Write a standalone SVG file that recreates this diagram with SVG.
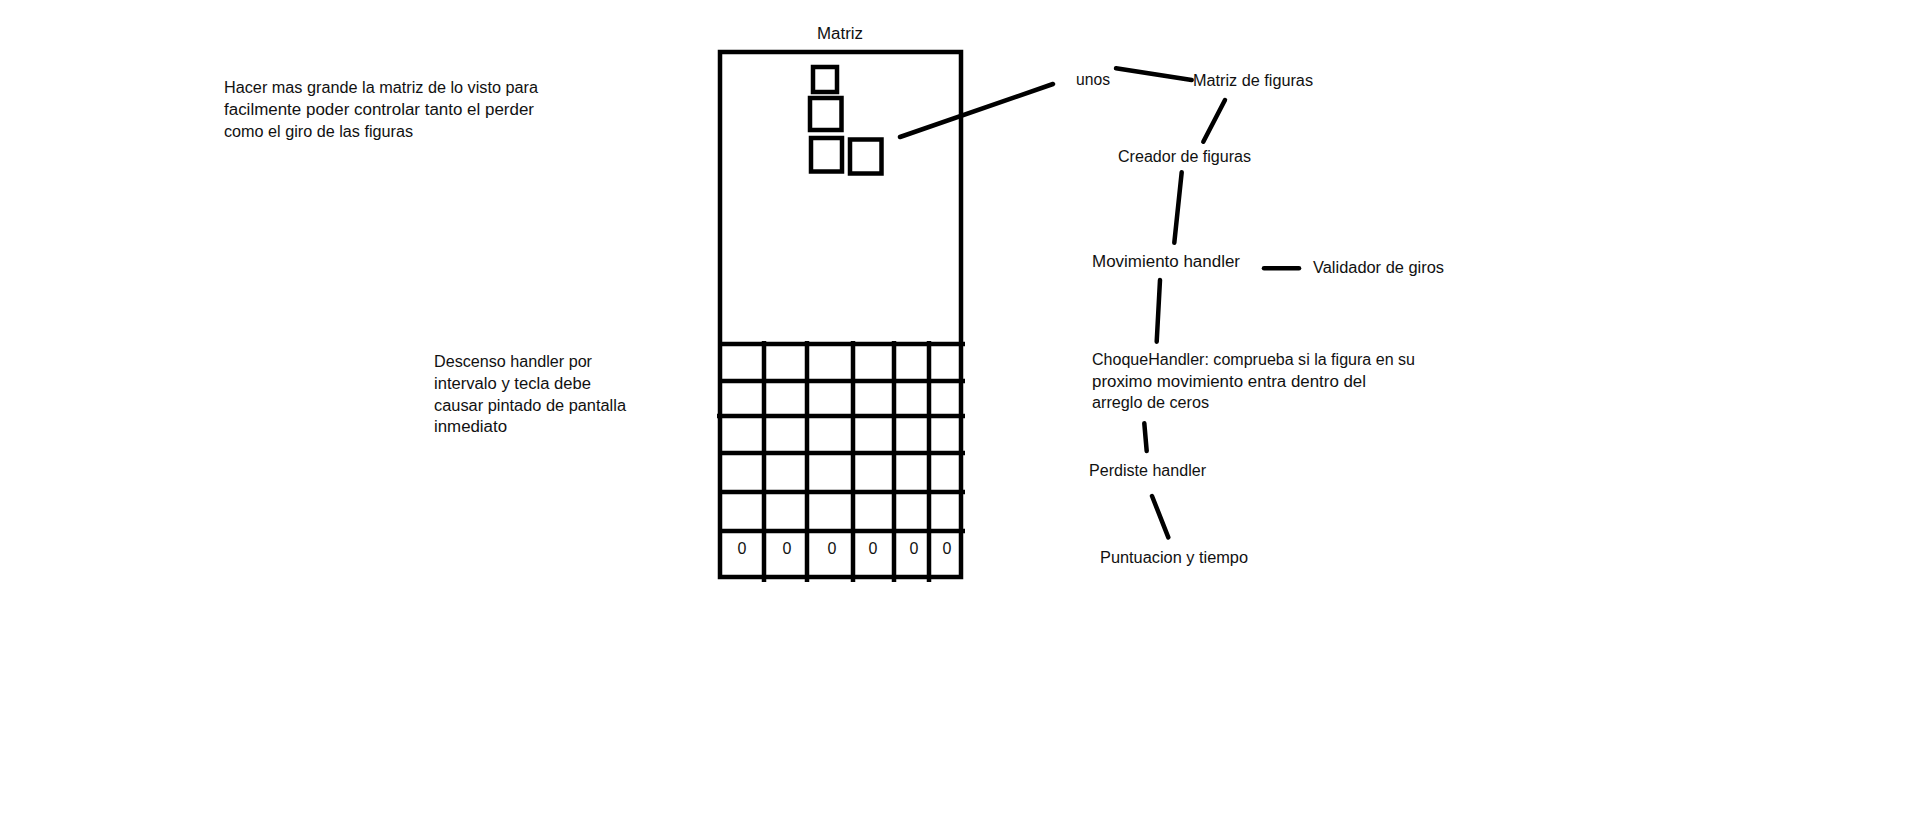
<svg xmlns="http://www.w3.org/2000/svg" width="1914" height="824" viewBox="0 0 1914 824">
<style>
text{font-family:"Liberation Sans",Arial,sans-serif;font-size:16px;fill:#111}
.s{stroke:#000;stroke-width:4.5;fill:none;stroke-linecap:square}
.g{stroke:#000;stroke-width:4.5;fill:none;stroke-linecap:butt}
.c{stroke:#000;stroke-width:4.5;fill:none;stroke-linecap:round}
.z{text-anchor:middle}
</style>
<rect width="1914" height="824" fill="#fff"/>
<g id="matriz">
<text x="817" y="39" textLength="46" lengthAdjust="spacingAndGlyphs">Matriz</text>
<path class="s" d="M720,52H961V577H720Z"/>
<path class="g" d="M720,344H965M720,381H965M717,416H965M720,453H965M720,492H965M720,531H965"/>
<path class="g" d="M764,341V582M807,341V582M853,341V582M894,341V582M929,341V582"/>
<g>
<text class="z" x="742" y="554">0</text>
<text class="z" x="787" y="554">0</text>
<text class="z" x="832" y="554">0</text>
<text class="z" x="873" y="554">0</text>
<text class="z" x="914" y="554">0</text>
<text class="z" x="947" y="554">0</text>
</g>
</g>
<g id="figura">
<rect class="s" x="813" y="67" width="24" height="25"/>
<rect class="s" x="810" y="98" width="31.5" height="32"/>
<rect class="s" x="811" y="138" width="31" height="33.5"/>
<rect class="s" x="850" y="139.5" width="31.5" height="34"/>
</g>
<g id="nota-matriz">
<text x="224" y="93.3" textLength="314" lengthAdjust="spacingAndGlyphs">Hacer mas grande la matriz de lo visto para</text>
<text x="224" y="115" textLength="310" lengthAdjust="spacingAndGlyphs">facilmente poder controlar tanto el perder</text>
<text x="224" y="136.7" textLength="189" lengthAdjust="spacingAndGlyphs">como el giro de las figuras</text>
</g>
<g id="nota-descenso">
<text x="434" y="366.7" textLength="158" lengthAdjust="spacingAndGlyphs">Descenso handler por</text>
<text x="434" y="389" textLength="157" lengthAdjust="spacingAndGlyphs">intervalo y tecla debe</text>
<text x="434" y="411" textLength="192" lengthAdjust="spacingAndGlyphs">causar pintado de pantalla</text>
<text x="434" y="432.3" textLength="73" lengthAdjust="spacingAndGlyphs">inmediato</text>
</g>
<g id="unos"><text x="1076" y="85" textLength="34" lengthAdjust="spacingAndGlyphs">unos</text></g>
<g id="matriz-figuras"><text x="1193" y="86" textLength="120" lengthAdjust="spacingAndGlyphs">Matriz de figuras</text></g>
<g id="creador"><text x="1118" y="161.7" textLength="133" lengthAdjust="spacingAndGlyphs">Creador de figuras</text></g>
<g id="movimiento"><text x="1092" y="267.3" textLength="148" lengthAdjust="spacingAndGlyphs">Movimiento handler</text></g>
<g id="validador"><text x="1313" y="272.7" textLength="131" lengthAdjust="spacingAndGlyphs">Validador de giros</text></g>
<g id="choque">
<text x="1092" y="365" textLength="323" lengthAdjust="spacingAndGlyphs">ChoqueHandler: comprueba si la figura en su</text>
<text x="1092" y="386.7" textLength="274" lengthAdjust="spacingAndGlyphs">proximo movimiento entra dentro del</text>
<text x="1092" y="408.3" textLength="117" lengthAdjust="spacingAndGlyphs">arreglo de ceros</text>
</g>
<g id="perdiste"><text x="1089" y="475.7" textLength="117" lengthAdjust="spacingAndGlyphs">Perdiste handler</text></g>
<g id="puntuacion"><text x="1100" y="562.7" textLength="148" lengthAdjust="spacingAndGlyphs">Puntuacion y tiempo</text></g>
<g id="connectors">
<path class="c" d="M900,137L1053,84"/>
<path class="c" d="M1116,68.3L1191.7,80"/>
<path class="c" d="M1225,100L1203.3,141.7"/>
<path class="c" d="M1181.7,172.3L1174.3,242.7"/>
<path class="c" d="M1264,268.3H1299"/>
<path class="c" d="M1160,280L1156.7,341.7"/>
<path class="c" d="M1144.3,423.3L1146.7,451"/>
<path class="c" d="M1152,496L1168.3,537.3"/>
</g>
</svg>
